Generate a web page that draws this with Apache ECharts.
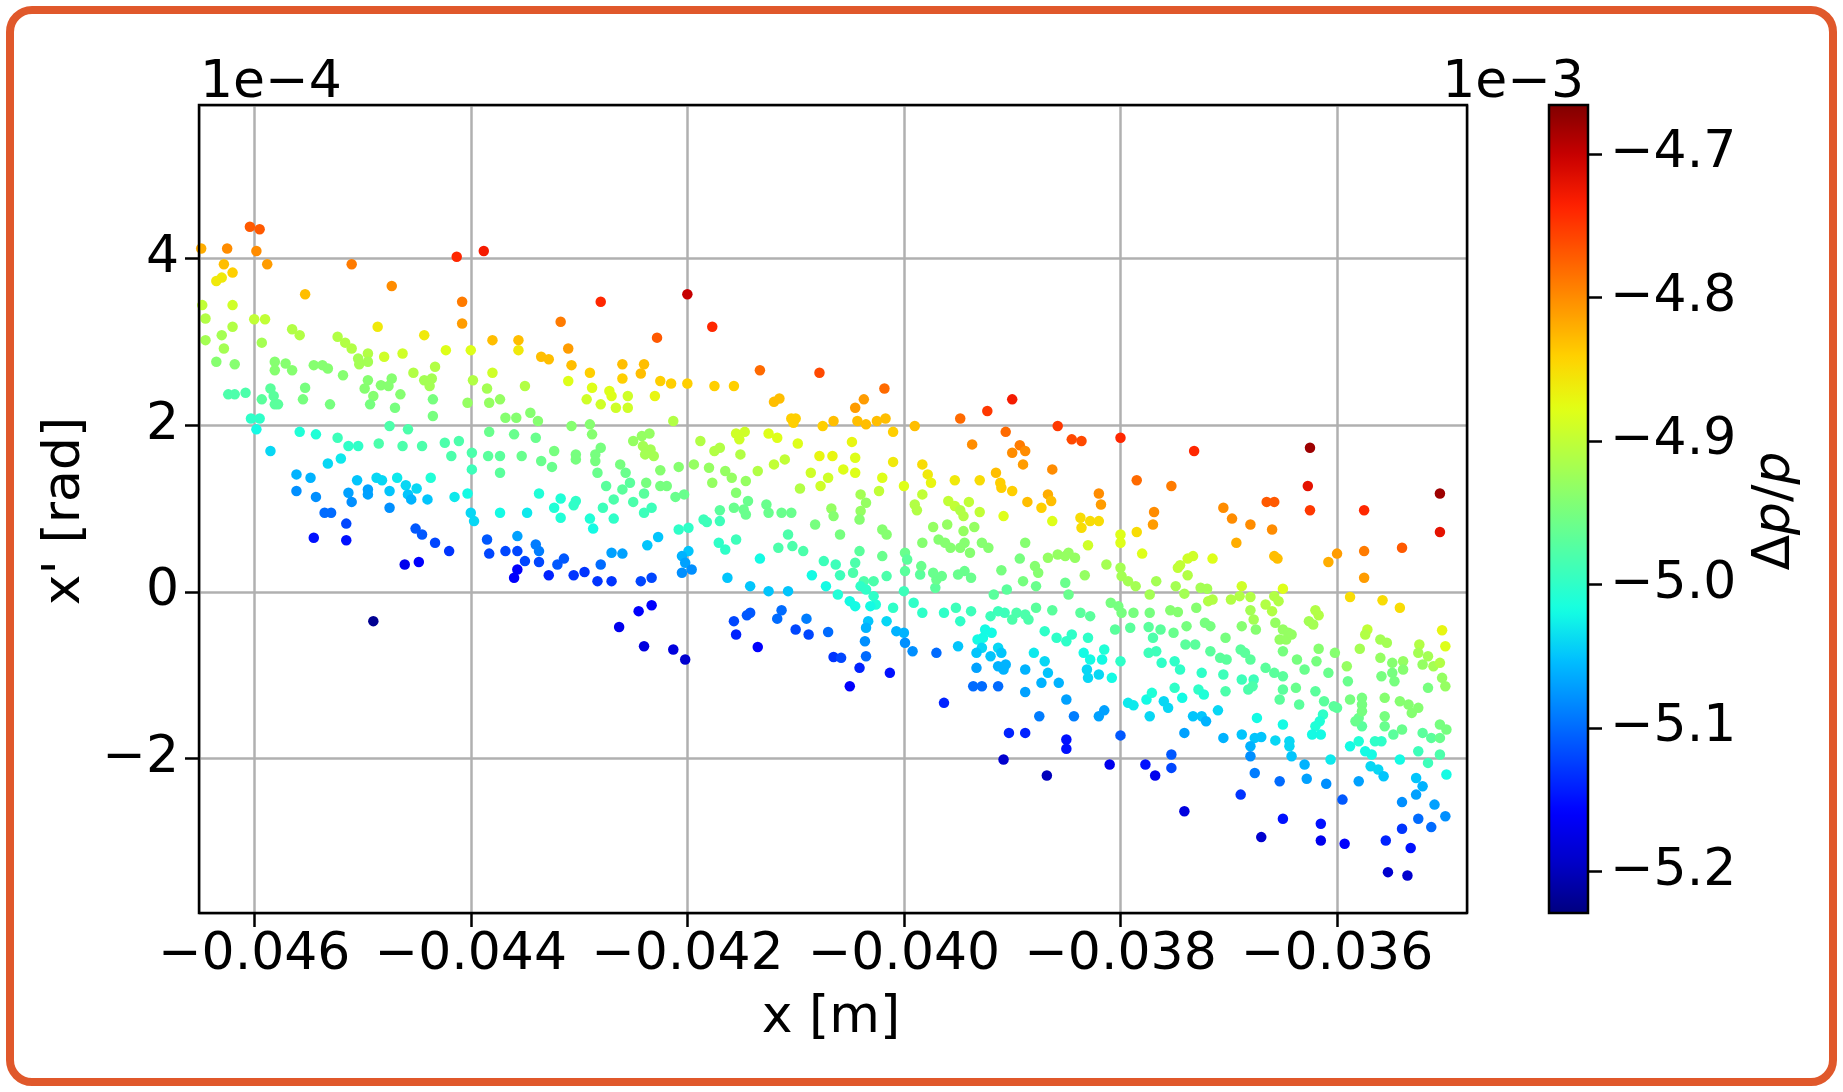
<!DOCTYPE html>
<html>
<head>
<meta charset="utf-8">
<title>Phase space x - x'</title>
<script src="https://cdn.jsdelivr.net/npm/echarts@6/dist/echarts.min.js"></script>
<style>
  html, body { margin: 0; padding: 0; background: #ffffff; }
  #chart { position: absolute; left: 0; top: 0; width: 1843px; height: 1092px; }
  #frame { position: absolute; left: 6px; top: 6px; width: 1831px; height: 1080px; box-sizing: border-box;
           border: 8px solid #e0582b; border-radius: 26px; pointer-events: none; }
</style>
</head>
<body>
<div id="chart"></div>
<div id="frame"></div>
<script>
// Particle positions x (in mm), angles x' (in 1e-4 rad) and momentum deviation dp/p (in 1e-3)
const posX = [
  // upper-left cluster
  -46.04,-45.95,-46.49,-46.25,-45.98,-46.28,-45.88,-46.20,-46.30,-46.35,
  -45.10,-44.13,-43.88,-45.53,-44.73,-44.08,-44.08,-46.20,-46.48,-46.45,
  -46.00,-45.90,-44.86,-44.43,-43.80,-43.56,-44.23,-44.00,-43.56,-46.45,
  -46.30,-46.20,-46.28,-45.93,-45.65,-45.58,-46.35,-46.18,-45.23,-45.16,
  -45.10,-45.04,-44.95,-45.03,-44.95,-44.80,-44.63,-45.81,-45.81,-45.71,
  -45.65,-45.45,-45.37,-45.32,-45.18,-44.53,-44.33,-44.43,-44.36,-44.38,
  -43.98,-43.80,-43.85,-44.95,-44.98,-44.90,-44.83,-44.73,-44.76,-44.65,
  -44.93,-44.70,-44.35,-44.35,-44.03,-43.83,-43.73,-43.68,-43.58,-45.53,
  -45.55,-45.30,-45.85,-45.82,-45.81,-45.78,-45.93,-46.24,-46.18,-46.08,
  -46.03,-45.95,-45.98,-45.58,-45.43,-45.23,-44.75,-44.58,-43.83,-43.60,
  -45.13,-45.04,-44.85,-44.63,-44.45,-44.24,-44.11,
  // lower-left cluster
  -45.85,-45.32,-45.20,-44.18,-43.99,-43.99,-43.84,-43.73,-43.73,-45.61,
  -45.48,-45.61,-45.43,-45.35,-45.29,-45.15,-45.45,-45.15,-45.05,-45.13,
  -45.10,-44.95,-44.95,-44.87,-44.82,-44.75,-44.75,-44.68,-44.60,-44.58,
  -44.55,-44.50,-44.37,-44.40,-44.15,-44.03,-44.00,-43.97,-43.73,-44.51,
  -44.45,-44.33,-44.20,-44.61,-44.48,-43.85,-43.83,-43.68,-43.57,-43.57,
  -43.60,-43.57,-44.90,
  // upper-middle cluster
  -42.80,-42.00,-41.77,-43.17,-42.28,-43.35,-43.28,-43.10,-43.07,-42.90,
  -42.60,-42.60,-42.40,-42.43,-42.25,-42.15,-42.00,-41.75,-41.57,-41.33,
  -40.78,-41.20,-41.15,-41.04,-41.00,-41.02,-40.75,-40.65,-43.10,-42.88,
  -42.72,-42.70,-42.55,-42.55,-42.93,-42.80,-42.66,-42.30,-43.50,-43.45,
  -43.38,-43.07,-42.90,-42.88,-43.40,-42.13,-42.50,-42.42,-42.35,-41.88,
  -41.55,-41.47,-41.52,-41.25,-41.17,-40.98,
  // middle cluster
  -43.53,-43.35,-43.25,-43.23,-43.03,-43.03,-42.85,-42.80,-42.85,-42.83,
  -42.75,-42.62,-42.57,-42.53,-42.60,-42.68,-42.41,-42.34,-42.39,-42.31,
  -42.25,-42.08,-42.38,-42.25,-42.19,-42.40,-42.50,-42.11,-42.03,-42.33,
  -42.40,-42.68,-42.78,-42.90,-42.87,-43.03,-43.05,-43.17,-43.23,-43.17,
  -43.37,-43.48,-43.40,-43.37,-43.50,-43.37,-43.28,-43.20,-43.14,-43.05,
  -42.95,-42.80,-42.83,-42.70,-42.70,-42.60,-42.37,-42.27,-42.43,-42.33,
  -42.08,-41.99,-41.99,-42.05,-42.02,-41.96,-42.05,-42.45,-42.33,-42.63,
  -42.40,-42.13,-42.02,-41.85,-41.82,-41.70,-41.70,-41.57,-41.48,-41.44,
  -41.46,-41.77,-41.65,-41.59,-41.55,-41.46,-41.35,-41.94,-41.80,-41.75,
  -41.70,-41.51,-41.20,-41.10,-40.78,-40.66,-40.86,-40.70,-40.77,-40.96,
  -41.27,-41.25,-41.13,-41.04,-40.82,-40.67,-40.65,-41.71,-41.65,-41.55,
  -41.33,-41.07,-41.16,-41.03,-40.93,-40.74,-40.63,-40.85,-40.72,-41.63,
  -41.42,-41.25,-41.07,-41.57,-41.55,-41.45,-41.42,-41.35,-41.17,-41.13,
  -41.00,-40.90,-40.88,-40.70,-40.65,
  // upper-right of centre
  -40.18,-40.37,-40.45,-40.43,-40.35,-40.25,-40.17,-40.10,-39.90,-39.48,
  -39.23,-39.00,-39.06,-38.58,-38.45,-38.36,-38.00,-40.48,-39.37,-38.93,
  // right-of-centre cluster
  -39.00,-38.88,-38.90,-38.63,-37.85,-39.15,-39.11,-39.10,-39.00,-39.30,
  -39.53,-39.83,-39.78,-39.75,-40.10,-40.00,-40.20,-40.23,-40.45,-40.56,
  -40.45,-38.86,-38.73,-38.67,-38.64,-38.20,-38.18,-37.69,-37.70,-38.37,
  -38.36,-38.28,-38.20,-38.63,-39.08,-39.30,-39.40,-39.45,-39.59,-39.53,
  -39.48,-39.90,-39.88,-39.83,-40.40,-40.35,-40.40,-40.41,-40.20,-40.16,
  -40.59,-39.73,-39.60,-39.45,-39.35,-39.83,-39.68,-39.62,-39.57,-39.48,
  -39.44,-39.39,-39.28,-39.22,-38.88,-38.93,-38.67,-38.58,-38.48,-38.42,
  -38.51,-38.30,-38.00,-38.00,-37.85,-37.80,-38.13,-38.33,-38.79,-38.76,
  -38.78,-39.10,-38.90,-39.05,-39.17,-38.51,-38.48,-38.00,-37.99,-37.93,
  -37.86,-37.73,-37.67,-38.09,-38.02,-37.99,-37.88,-37.73,-38.05,-37.91,
  -37.74,-37.70,-37.74,-38.37,-38.28,-38.63,-38.78,-38.96,-38.88,-38.85,
  -39.00,-39.13,-39.20,-39.07,-38.70,-38.59,-38.50,-38.45,-38.30,-38.15,
  -38.34,-38.28,-38.17,-38.00,-38.08,-38.31,-38.20,-38.30,-38.80,-38.70,
  -38.67,-38.73,-38.57,-38.88,-39.25,-39.27,-39.32,-39.19,-39.28,-39.33,
  -39.20,-39.13,-39.10,-39.13,-39.08,-39.06,-39.33,-39.36,-39.28,-39.13,
  -39.50,-39.48,-39.52,-39.38,-39.63,-39.71,-39.70,-39.65,-39.73,-39.85,
  -39.84,-39.50,-39.44,-39.38,-39.91,-39.83,-40.00,-39.99,-39.99,-39.97,
  -40.20,-40.16,-40.28,-40.37,-40.41,-40.45,-40.47,-40.59,-40.40,-40.35,
  -40.61,-40.50,-40.45,-40.28,-40.26,-40.31,-40.10,-40.16,-40.33,-40.35,
  -40.36,-40.07,-40.00,-39.99,-39.92,-39.70,-40.58,-40.35,-40.41,-40.13,
  -40.50,
  // lower right-of-centre
  -39.63,-38.88,-38.50,-38.75,-38.43,-38.20,-38.15,-37.93,-37.88,-37.76,
  -37.71,-37.73,-39.03,-38.88,-38.50,-38.50,-38.00,-39.08,-38.68,-38.10,
  -37.77,-37.68,
  // right cluster
  -37.32,-36.25,-36.27,-36.25,-35.05,-35.05,-35.75,-35.40,-35.75,-35.75,
  -36.00,-36.08,-37.53,-36.65,-36.58,-37.05,-36.97,-36.80,-36.60,-36.93,
  -36.58,-36.55,-35.88,-35.58,-35.42,-35.03,-35.00,-37.15,-37.33,-37.38,
  -37.45,-37.47,-37.38,-36.88,-36.50,-37.49,-37.41,-37.26,-37.20,-36.98,
  -36.90,-36.80,-37.19,-37.15,-36.66,-36.58,-36.60,-36.54,-36.80,-36.77,
  -36.20,-36.17,-36.26,-36.22,-37.54,-37.47,-37.30,-37.39,-37.22,-37.17,
  -36.88,-36.75,-36.57,-36.50,-36.45,-36.53,-36.47,-36.42,-37.63,-37.51,
  -37.03,-37.40,-37.31,-37.17,-37.08,-37.02,-36.89,-36.85,-36.80,-36.50,
  -36.37,-36.30,-36.17,-36.19,-36.02,-36.08,-37.67,-37.62,-37.50,-37.45,
  -37.25,-36.66,-36.58,-36.50,-37.05,-36.88,-36.77,-35.91,-35.79,-35.72,
  -35.74,-35.60,-35.54,-35.60,-35.49,-35.39,-35.39,-35.49,-35.59,-35.24,
  -35.25,-35.16,-35.21,-35.11,-35.05,-35.03,-35.90,-35.47,-35.16,-35.00,
  // lower-right cluster
  -37.50,-37.43,-37.28,-37.23,-37.03,-36.82,-36.78,-36.50,-36.53,-36.38,
  -36.35,-36.20,-36.12,-36.03,-36.00,-37.60,-37.56,-37.33,-37.25,-37.21,
  -37.10,-36.74,-36.50,-36.13,-36.16,-36.20,-36.23,-36.15,-35.88,-35.77,
  -35.80,-35.77,-35.83,-35.77,-35.77,-35.56,-35.56,-35.56,-35.48,-35.40,
  -35.42,-35.34,-35.25,-35.31,-35.21,-35.13,-35.05,-34.99,-35.05,-35.05,
  -35.16,-35.25,-35.65,-35.59,-35.88,-35.80,-35.74,-35.68,-35.69,-35.62,
  -35.57,-35.42,-36.06,-36.42,-36.44,-36.44,-36.30,-36.28,-36.10,-36.57,
  -36.76,-36.70,-36.80,-36.80,-36.76,-36.88,-37.05,-36.53,-37.41,-37.53,
  -37.53,-36.89,-37.41,-36.50,-36.70,-36.15,-36.15,-35.93,-35.95,-35.80,
  -35.40,-35.27,-35.21,-35.27,-35.10,-35.00,-35.13,-35.25,-34.99,-35.40,
  -35.32,-35.55,-35.53,-35.35
];

const slopeX = [
  4.38,4.35,4.12,4.12,4.09,3.93,3.93,3.83,3.77,3.73,
  3.93,4.02,4.09,3.57,3.67,3.48,3.22,3.44,3.44,3.28,
  3.27,3.27,3.18,3.08,3.02,3.02,2.90,2.90,2.90,3.02,
  3.08,3.18,2.92,2.99,3.15,3.08,2.76,2.73,3.06,2.99,
  2.92,2.80,2.86,2.73,2.76,2.82,2.86,2.76,2.66,2.74,
  2.66,2.72,2.72,2.68,2.60,2.63,2.70,2.54,2.56,2.47,
  2.54,2.63,2.44,2.54,2.44,2.35,2.48,2.56,2.47,2.37,
  2.25,2.21,2.31,2.11,2.27,2.27,2.31,2.09,2.09,2.45,
  2.31,2.25,2.44,2.35,2.25,2.25,2.31,2.37,2.37,2.39,
  2.08,2.08,1.95,1.92,1.89,1.85,1.99,1.95,1.92,1.89,
  1.75,1.75,1.78,1.75,1.75,1.79,1.81,
  1.69,1.54,1.60,1.63,1.67,1.47,1.63,1.63,1.43,1.41,
  1.37,1.21,1.14,0.95,0.95,0.82,0.65,0.62,1.34,1.19,
  1.08,1.23,1.17,1.37,1.34,1.21,1.01,1.37,1.28,1.17,
  1.11,1.24,1.37,1.11,1.14,1.18,0.95,0.85,0.95,0.76,
  0.69,0.59,0.49,0.33,0.36,0.63,0.46,0.49,0.49,0.67,
  0.17,0.27,-0.35,
  3.48,3.57,3.18,3.24,3.05,2.82,2.79,2.92,2.72,2.63,
  2.73,2.56,2.73,2.62,2.53,2.50,2.50,2.47,2.47,2.66,
  2.63,2.28,2.32,2.08,2.08,2.03,1.99,2.05,2.53,2.45,
  2.41,2.35,2.35,2.21,2.31,2.25,2.21,2.35,2.47,2.15,
  2.05,1.99,2.01,1.89,1.85,2.05,1.81,1.87,1.90,1.81,
  1.90,1.92,1.83,1.90,1.85,1.78,
  1.63,1.57,1.50,1.69,1.65,1.59,1.65,1.73,1.57,1.43,
  1.27,1.53,1.43,1.31,1.23,1.11,1.75,1.71,1.65,1.63,
  1.46,1.50,1.31,1.27,1.27,1.18,1.08,1.14,1.17,1.01,
  0.95,0.88,1.01,0.88,0.76,1.09,1.04,1.12,1.01,0.89,
  1.18,0.95,0.57,0.49,0.37,0.36,0.20,0.33,0.40,0.20,
  0.24,0.33,0.13,0.13,0.47,0.46,0.56,0.66,0.13,0.17,
  0.75,0.77,0.49,0.43,0.35,0.27,0.23,-0.23,-0.16,-0.42,
  -0.65,-0.69,-0.81,0.87,0.84,0.98,0.85,1.01,0.99,1.09,
  0.93,1.31,1.45,1.37,1.19,1.33,1.45,1.53,1.49,1.69,
  1.73,1.65,1.53,1.59,1.63,1.63,1.43,1.37,1.27,1.24,
  1.05,0.95,0.95,0.95,0.81,1.00,0.91,0.59,0.51,0.63,
  0.40,0.69,0.53,0.55,0.49,0.37,0.33,0.20,0.07,0.17,
  0.07,0.01,0.01,-0.35,-0.51,-0.28,-0.25,-0.66,-0.32,-0.22,
  -0.45,-0.32,-0.51,-0.48,-0.78,
  2.44,2.31,2.21,2.05,2.01,2.05,2.08,1.92,1.99,2.08,
  2.17,2.31,1.92,1.99,1.83,1.81,1.85,1.80,1.77,1.76,
  1.67,1.69,1.53,1.47,1.34,1.43,1.31,1.25,1.21,1.34,
  1.34,1.53,1.41,1.31,1.56,1.27,1.37,1.21,1.61,1.47,
  1.43,1.08,1.01,1.17,1.09,1.18,1.05,0.96,0.81,0.89,
  0.77,0.85,0.85,0.85,0.91,0.96,1.08,0.91,1.09,1.03,
  0.98,1.05,0.98,1.17,1.17,1.07,0.97,0.87,0.75,0.69,
  0.69,0.78,0.81,0.73,0.78,0.59,0.63,0.59,0.53,0.53,
  0.59,0.47,0.59,0.53,0.59,0.40,0.41,0.45,0.47,0.41,
  0.43,0.56,0.69,0.59,0.72,0.46,0.33,0.20,0.31,0.23,
  0.07,0.26,0.13,0.03,-0.03,0.11,-0.03,0.29,0.19,0.13,
  0.07,-0.03,0.13,-0.13,-0.17,-0.25,-0.25,-0.25,-0.45,-0.43,
  -0.42,-0.55,-0.73,-0.25,-0.29,-0.22,-0.19,-0.25,-0.27,-0.33,
  -0.33,-0.23,-0.29,-0.25,-0.47,-0.55,-0.59,-0.51,-0.55,-0.69,
  -0.73,-0.81,-0.81,-0.83,-1.03,-0.93,-0.99,-1.03,-0.73,-0.83,
  -0.97,-1.09,-1.09,-0.93,-0.45,-0.55,-0.57,-0.49,-0.67,-0.73,
  -0.77,-0.67,-0.73,-0.89,-0.93,-0.87,-0.91,-1.13,-1.13,-1.13,
  -0.65,-0.35,-0.19,-0.23,-0.25,0.05,0.15,0.19,0.23,0.21,
  0.31,0.21,0.25,0.17,-0.13,-0.25,0.01,0.47,0.25,0.39,
  0.43,0.19,0.13,0.13,0.49,0.35,0.23,0.20,0.07,0.03,
  -0.03,-0.11,-0.17,-0.05,-0.15,-0.17,-0.19,-0.35,-0.35,-0.43,
  -0.59,-0.47,-0.49,-0.61,-0.71,-0.73,-0.79,-0.77,-0.91,-0.97,
  -1.13,
  -1.33,-1.20,-1.29,-1.49,-1.49,-1.49,-1.42,-1.33,-1.36,-1.29,
  -1.21,-1.49,-1.69,-1.69,-1.77,-1.88,-1.72,-2.01,-2.20,-2.07,
  -2.07,-2.20,
  1.69,1.73,1.27,0.98,1.18,0.72,0.98,0.53,0.49,0.17,
  0.46,0.36,1.27,1.08,1.08,1.01,0.88,0.81,0.75,0.59,
  0.43,0.40,-0.06,-0.10,-0.19,-0.46,-0.65,0.40,0.43,0.40,
  0.32,0.29,0.20,0.07,0.04,0.07,-0.02,0.05,0.04,-0.09,
  -0.05,-0.06,-0.11,-0.09,-0.15,-0.05,-0.23,-0.11,-0.22,-0.33,
  -0.22,-0.28,-0.35,-0.39,-0.22,-0.24,-0.19,-0.41,-0.37,-0.41,
  -0.41,-0.45,-0.37,-0.45,-0.49,-0.57,-0.57,-0.51,-0.45,-0.49,
  -0.55,-0.63,-0.63,-0.71,-0.79,-0.81,-0.69,-0.73,-0.81,-0.71,
  -0.81,-0.93,-0.68,-0.83,-0.73,-0.97,-0.71,-0.85,-0.83,-0.93,
  -0.97,-0.91,-0.97,-1.01,-0.99,-1.05,-1.05,-0.89,-0.68,-0.45,
  -0.51,-0.57,-0.61,-0.79,-0.85,-0.83,-0.93,-0.97,-1.01,-0.63,
  -0.73,-0.77,-0.87,-0.89,-0.85,-1.03,-1.07,-1.07,-1.15,-1.13,
  -1.15,-1.27,-1.17,-1.23,-1.19,-1.17,-1.13,-1.17,-1.29,-1.15,
  -1.35,-1.19,-1.31,-1.37,-1.39,-1.31,-1.39,-1.49,-1.49,-1.55,
  -1.42,-1.51,-1.59,-1.47,-1.55,-1.61,-1.71,-1.71,-1.29,-1.27,
  -1.51,-1.61,-1.55,-1.35,-1.43,-1.27,-1.49,-1.61,-1.71,-1.65,
  -1.31,-1.35,-1.39,-1.45,-1.69,-1.75,-1.59,-1.65,-1.75,-1.95,
  -2.05,-1.91,-1.79,-1.79,-1.85,-1.79,-1.91,-1.95,-2.09,-2.13,
  -2.21,-2.01,-2.01,-1.97,-1.85,-1.79,-2.07,-2.24,-2.30,-1.78,
  -1.75,-1.74,-1.85,-1.97,-2.17,-1.71,-1.75,-2.27,-1.69,-1.95,
  -2.11,-2.43,-2.63,-2.72,-2.94,-2.78,-2.98,-3.02,-2.49,-2.27,
  -2.52,-2.43,-2.33,-2.23,-2.55,-2.69,-2.82,-2.72,-2.19,-2.84,
  -3.07,-2.98,-3.36,-3.40
];

const deltaP = [
  -4.77,-4.77,-4.82,-4.80,-4.80,-4.83,-4.81,-4.84,-4.86,-4.86,
  -4.79,-4.74,-4.73,-4.83,-4.80,-4.79,-4.81,-4.89,-4.90,-4.91,
  -4.90,-4.90,-4.86,-4.86,-4.83,-4.83,-4.88,-4.88,-4.86,-4.92,
  -4.92,-4.91,-4.92,-4.92,-4.91,-4.91,-4.94,-4.94,-4.91,-4.91,
  -4.91,-4.92,-4.91,-4.92,-4.92,-4.89,-4.89,-4.94,-4.94,-4.94,
  -4.94,-4.94,-4.94,-4.94,-4.94,-4.91,-4.91,-4.92,-4.92,-4.92,
  -4.91,-4.89,-4.92,-4.94,-4.94,-4.94,-4.94,-4.94,-4.94,-4.94,
  -4.95,-4.95,-4.95,-4.95,-4.93,-4.93,-4.93,-4.94,-4.94,-4.95,
  -4.95,-4.95,-4.97,-4.97,-4.97,-4.97,-4.97,-4.98,-4.98,-4.98,
  -5.00,-5.00,-5.02,-5.01,-5.01,-4.99,-4.98,-4.98,-4.96,-4.96,
  -5.00,-5.00,-4.98,-4.98,-4.98,-4.98,-4.98,
  -5.04,-5.04,-5.03,-4.98,-4.98,-4.99,-4.97,-4.97,-4.97,-5.06,
  -5.06,-5.08,-5.08,-5.10,-5.10,-5.12,-5.15,-5.15,-5.05,-5.07,
  -5.08,-5.07,-5.07,-5.04,-5.04,-5.05,-5.08,-5.03,-5.04,-5.05,
  -5.06,-5.04,-5.01,-5.05,-5.03,-5.02,-5.04,-5.04,-5.02,-5.11,
  -5.11,-5.12,-5.13,-5.17,-5.16,-5.11,-5.12,-5.12,-5.12,-5.07,
  -5.16,-5.16,-5.22,
  -4.74,-4.70,-4.74,-4.79,-4.77,-4.83,-4.83,-4.81,-4.83,-4.84,
  -4.83,-4.84,-4.83,-4.83,-4.84,-4.84,-4.84,-4.84,-4.84,-4.78,
  -4.76,-4.83,-4.83,-4.84,-4.84,-4.84,-4.84,-4.83,-4.88,-4.88,
  -4.88,-4.88,-4.89,-4.89,-4.89,-4.89,-4.89,-4.87,-4.91,-4.94,
  -4.94,-4.94,-4.94,-4.94,-4.96,-4.91,-4.93,-4.93,-4.93,-4.91,
  -4.89,-4.89,-4.89,-4.88,-4.88,-4.88,
  -4.96,-4.96,-4.96,-4.95,-4.95,-4.95,-4.95,-4.95,-4.95,-4.96,
  -4.97,-4.95,-4.96,-4.97,-4.97,-4.98,-4.92,-4.92,-4.92,-4.92,
  -4.94,-4.94,-4.95,-4.95,-4.95,-4.97,-4.98,-4.96,-4.96,-4.99,
  -4.99,-5.00,-4.99,-5.01,-5.02,-5.00,-5.00,-5.01,-5.01,-5.01,
  -5.01,-5.03,-5.09,-5.09,-5.12,-5.12,-5.14,-5.11,-5.11,-5.13,
  -5.13,-5.10,-5.13,-5.13,-5.07,-5.07,-5.05,-5.05,-5.12,-5.12,
  -5.00,-5.00,-5.05,-5.06,-5.07,-5.08,-5.08,-5.16,-5.16,-5.17,
  -5.18,-5.18,-5.19,-4.99,-4.99,-4.97,-4.99,-4.96,-4.96,-4.96,
  -4.96,-4.93,-4.93,-4.93,-4.94,-4.93,-4.91,-4.93,-4.93,-4.91,
  -4.91,-4.91,-4.90,-4.90,-4.87,-4.87,-4.89,-4.89,-4.89,-4.91,
  -4.96,-4.96,-4.96,-4.96,-4.95,-4.93,-4.94,-5.00,-5.00,-4.99,
  -5.02,-4.98,-4.98,-4.98,-4.98,-4.99,-4.99,-5.02,-5.02,-5.05,
  -5.05,-5.05,-5.05,-5.12,-5.14,-5.11,-5.11,-5.16,-5.10,-5.10,
  -5.12,-5.09,-5.12,-5.10,-5.13,
  -4.78,-4.81,-4.81,-4.83,-4.83,-4.83,-4.83,-4.84,-4.83,-4.78,
  -4.75,-4.73,-4.78,-4.75,-4.76,-4.76,-4.74,-4.87,-4.80,-4.79,
  -4.80,-4.80,-4.81,-4.80,-4.78,-4.83,-4.84,-4.84,-4.84,-4.85,
  -4.86,-4.85,-4.86,-4.87,-4.86,-4.88,-4.88,-4.90,-4.88,-4.88,
  -4.88,-4.83,-4.84,-4.82,-4.83,-4.80,-4.81,-4.80,-4.81,-4.85,
  -4.85,-4.85,-4.85,-4.88,-4.88,-4.90,-4.90,-4.91,-4.90,-4.90,
  -4.91,-4.91,-4.91,-4.90,-4.92,-4.93,-4.93,-4.94,-4.94,-4.94,
  -4.95,-4.93,-4.93,-4.93,-4.93,-4.94,-4.94,-4.94,-4.94,-4.94,
  -4.94,-4.94,-4.94,-4.94,-4.94,-4.95,-4.93,-4.93,-4.93,-4.93,
  -4.93,-4.89,-4.88,-4.88,-4.85,-4.88,-4.92,-4.93,-4.94,-4.94,
  -4.96,-4.95,-4.95,-4.97,-4.97,-4.96,-4.96,-4.92,-4.92,-4.92,
  -4.92,-4.92,-4.92,-4.95,-4.95,-4.95,-4.95,-4.95,-4.97,-4.97,
  -4.97,-4.98,-4.99,-4.97,-4.97,-4.97,-4.97,-4.98,-4.98,-4.98,
  -4.98,-4.99,-4.99,-4.99,-5.00,-5.00,-5.00,-5.00,-5.00,-5.01,
  -5.02,-5.02,-5.02,-5.00,-5.02,-5.04,-5.04,-5.04,-5.03,-5.04,
  -5.05,-5.06,-5.06,-5.06,-5.02,-5.02,-5.02,-5.02,-5.04,-5.05,
  -5.05,-5.04,-5.05,-5.06,-5.06,-5.06,-5.07,-5.10,-5.10,-5.10,
  -5.05,-5.00,-4.99,-4.99,-5.00,-4.97,-4.96,-4.96,-4.96,-4.97,
  -4.96,-4.96,-4.96,-4.96,-5.00,-5.00,-4.99,-4.96,-4.97,-4.97,
  -4.96,-4.98,-4.98,-4.98,-4.97,-4.98,-4.98,-4.99,-5.00,-5.00,
  -5.01,-5.02,-5.02,-5.00,-5.01,-5.02,-5.00,-5.04,-5.05,-5.06,
  -5.08,-5.06,-5.06,-5.08,-5.08,-5.10,-5.12,-5.10,-5.14,-5.15,
  -5.16,
  -5.14,-5.07,-5.07,-5.09,-5.09,-5.07,-5.07,-5.03,-5.03,-5.02,
  -5.01,-5.04,-5.14,-5.14,-5.15,-5.15,-5.11,-5.19,-5.20,-5.17,
  -5.15,-5.17,
  -4.74,-4.68,-4.72,-4.75,-4.68,-4.72,-4.74,-4.77,-4.79,-4.81,
  -4.81,-4.82,-4.79,-4.77,-4.77,-4.80,-4.80,-4.80,-4.80,-4.82,
  -4.83,-4.83,-4.85,-4.85,-4.85,-4.87,-4.88,-4.88,-4.89,-4.89,
  -4.90,-4.90,-4.91,-4.89,-4.88,-4.92,-4.92,-4.92,-4.92,-4.91,
  -4.91,-4.91,-4.91,-4.91,-4.91,-4.91,-4.91,-4.91,-4.92,-4.92,
  -4.91,-4.91,-4.92,-4.92,-4.94,-4.94,-4.94,-4.95,-4.95,-4.95,
  -4.94,-4.94,-4.93,-4.93,-4.93,-4.93,-4.93,-4.93,-4.97,-4.96,
  -4.95,-4.97,-4.97,-4.97,-4.97,-4.97,-4.97,-4.97,-4.97,-4.95,
  -4.95,-4.96,-4.94,-4.95,-4.94,-4.96,-4.99,-5.00,-5.00,-5.00,
  -5.00,-4.97,-4.97,-4.97,-4.99,-4.99,-4.99,-4.93,-4.92,-4.90,
  -4.91,-4.92,-4.92,-4.93,-4.94,-4.93,-4.94,-4.95,-4.95,-4.91,
  -4.92,-4.92,-4.93,-4.92,-4.91,-4.93,-4.96,-4.95,-4.95,-4.93,
  -5.00,-5.02,-5.00,-5.01,-4.98,-4.98,-4.98,-4.97,-4.97,-4.96,
  -4.97,-4.97,-4.97,-4.97,-4.97,-5.04,-5.04,-5.05,-5.05,-5.06,
  -5.04,-5.02,-5.02,-5.00,-5.01,-5.01,-5.02,-5.02,-4.95,-4.95,
  -4.96,-4.97,-4.96,-4.95,-4.95,-4.94,-4.95,-4.96,-4.97,-4.96,
  -4.94,-4.94,-4.94,-4.94,-4.97,-4.97,-4.95,-4.95,-4.96,-4.98,
  -4.99,-4.99,-5.00,-5.00,-5.02,-5.01,-5.02,-5.02,-5.04,-5.04,
  -5.05,-5.02,-5.03,-5.05,-5.04,-5.04,-5.06,-5.07,-5.08,-5.04,
  -5.05,-5.05,-5.06,-5.08,-5.09,-5.05,-5.06,-5.10,-5.07,-5.11,
  -5.12,-5.13,-5.18,-5.15,-5.19,-5.15,-5.17,-5.16,-5.11,-5.07,
  -5.08,-5.07,-5.06,-5.05,-5.07,-5.08,-5.10,-5.10,-5.02,-5.13,
  -5.15,-5.14,-5.19,-5.19
];

// Axis limits (x in m, x' in 1e-4 rad, colour scale in 1e-3)
const X_MIN = -0.04651, X_MAX = -0.03480;
const Y_MIN = -3.85, Y_MAX = 5.84;
const DP_MIN = -5.229, DP_MAX = -4.666;

// matplotlib "jet" colormap sampled at 17 evenly spaced stops
const JET = ['#000080','#0000c8','#0000ff','#0040ff','#0080ff','#00bfff','#15ffe2','#48ffaf',
             '#7bff7b','#afff48','#e2ff15','#ffd200','#ff9700','#ff5c00','#ff2100','#c80000','#800000'];

const FONT = 'DejaVu Sans';
const FS = 52;
const minus = s => s.replace('-', '\u2212');

const points = posX.map((x, i) => [x / 1000, slopeX[i], deltaP[i]]);

const chart = echarts.init(document.getElementById('chart'), null, { renderer: 'canvas' });

chart.setOption({
  animation: false,
  backgroundColor: '#ffffff',
  textStyle: { fontFamily: FONT },
  grid: [
    { left: 199, top: 105, width: 1268, height: 808, show: true, z: 10,
      backgroundColor: 'transparent', borderColor: '#000', borderWidth: 2.5 },
    { left: 1549, top: 105, width: 39, height: 808, show: true, z: 10,
      backgroundColor: 'transparent', borderColor: '#000', borderWidth: 2.5 }
  ],
  xAxis: [
    { type: 'value', gridIndex: 0, min: X_MIN, max: X_MAX, splitNumber: 5,
      axisLine: { show: false, onZero: false },
      axisTick: { show: true, length: 14, lineStyle: { color: '#000', width: 2.5 } },
      axisLabel: { fontSize: FS, color: '#000', fontFamily: FONT, margin: 16,
                   showMinLabel: false, showMaxLabel: false,
                   formatter: v => minus(v.toFixed(3)) },
      splitLine: { show: true, lineStyle: { color: '#b0b0b0', width: 2.5 } } },
    { type: 'value', gridIndex: 1, min: 0, max: 1, show: false }
  ],
  yAxis: [
    { type: 'value', gridIndex: 0, min: Y_MIN, max: Y_MAX, splitNumber: 5,
      axisLine: { show: false, onZero: false },
      axisTick: { show: true, length: 14, lineStyle: { color: '#000', width: 2.5 } },
      axisLabel: { fontSize: FS, color: '#000', fontFamily: FONT, margin: 20,
                   showMinLabel: false, showMaxLabel: false,
                   formatter: v => minus(String(Math.round(v))) },
      splitLine: { show: true, lineStyle: { color: '#b0b0b0', width: 2.5 } } },
    { type: 'value', gridIndex: 1, position: 'right', min: DP_MIN, max: DP_MAX, splitNumber: 5,
      axisLine: { show: false, onZero: false },
      axisTick: { show: true, length: 14, lineStyle: { color: '#000', width: 2.5 } },
      axisLabel: { fontSize: FS, color: '#000', fontFamily: FONT, margin: 22,
                   showMinLabel: false, showMaxLabel: false,
                   formatter: v => minus(v.toFixed(1)) },
      splitLine: { show: false } }
  ],
  visualMap: {
    type: 'continuous', show: true, dimension: 2, seriesIndex: 0,
    min: DP_MIN, max: DP_MAX, calculable: false, hoverLink: false,
    orient: 'vertical', left: 1549, top: 105, itemWidth: 39, itemHeight: 808,
    padding: 0, text: null, inRange: { color: JET }
  },
  series: [{
    type: 'scatter', xAxisIndex: 0, yAxisIndex: 0,
    symbol: 'circle', symbolSize: 10.5, data: points,
    itemStyle: { opacity: 1 }, emphasis: { disabled: true }
  }],
  graphic: [
    { type: 'text', x: 200, y: 83, z: 20,
      style: { text: '1e\u22124', fontSize: FS, fontFamily: FONT, fill: '#000', align: 'left', verticalAlign: 'middle' } },
    { type: 'text', x: 1584, y: 83, z: 20,
      style: { text: '1e\u22123', fontSize: FS, fontFamily: FONT, fill: '#000', align: 'right', verticalAlign: 'middle' } },
    { type: 'text', x: 831, y: 1018, z: 20,
      style: { text: 'x [m]', fontSize: FS, fontFamily: FONT, fill: '#000', align: 'center', verticalAlign: 'middle' } },
    { type: 'text', x: 65, y: 511, rotation: Math.PI / 2, z: 20,
      style: { text: "x' [rad]", fontSize: FS, fontFamily: FONT, fill: '#000', align: 'center', verticalAlign: 'middle' } },
    { type: 'text', x: 1775, y: 511, rotation: Math.PI / 2, z: 20,
      style: { text: '{n|\u0394}{i|p}{n|/}{i|p}', fontSize: FS, fontFamily: FONT, fill: '#000',
               align: 'center', verticalAlign: 'middle',
               rich: { n: { fontSize: FS, fontFamily: FONT, fill: '#000' },
                       i: { fontSize: FS, fontFamily: FONT, fontStyle: 'italic', fill: '#000' } } } }
  ]
});
</script>
</body>
</html>
